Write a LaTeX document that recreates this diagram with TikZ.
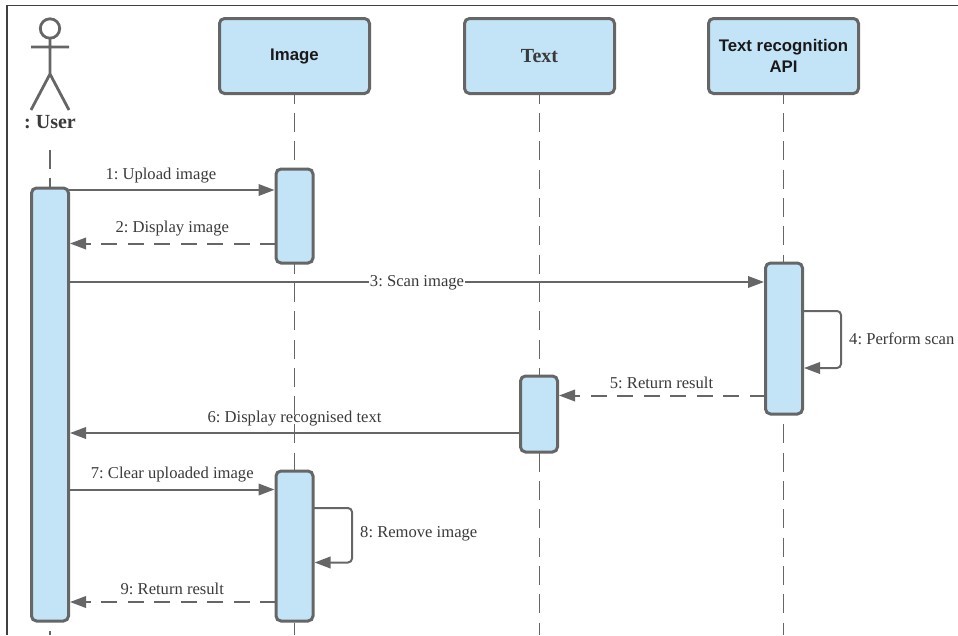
\documentclass[tikz,border=0pt]{standalone}
\usepackage{fontspec}
\setmainfont{Liberation Serif}
\newfontfamily\hvfont{Liberation Sans}
\usetikzlibrary{arrows.meta}
\definecolor{ln}{HTML}{666666}
\definecolor{bl}{HTML}{C3E3F7}
\definecolor{tx}{HTML}{3A3A3A}
\tikzset{
  lifebox/.style={draw=ln,fill=bl,line width=3pt,rounded corners=5pt,minimum width=150pt,minimum height=75pt,inner sep=0pt,outer sep=0pt,align=center},
  act/.style={draw=ln,fill=bl,line width=3pt,rounded corners=5pt,minimum width=37pt,inner sep=0pt,outer sep=0pt},
  lifeline/.style={draw=ln,line width=1.5pt,dash pattern=on 19pt off 9.3pt},
  msg/.style={draw=ln,line width=2pt,-{Triangle[length=16pt,width=11.5pt]},shorten >=1.5pt},
  ret/.style={msg,dash pattern=on 16pt off 10.5pt},
  lbl/.style={font=\fontsize{16.6}{18}\selectfont\frenchspacing,text=tx,inner sep=1pt},
  sanshead/.style={font=\hvfont\bfseries\fontsize{16.8}{21}\selectfont,text=black!90},
  serifhead/.style={font=\bfseries\fontsize{20}{22}\selectfont,text=tx},
}
\begin{document}
\begin{tikzpicture}[x=1pt,y=-1pt]
\useasboundingbox (0,0) rectangle (958,635);
\draw[black!75,line width=1.1pt] (958,5.5) -- (7,5.5) -- (7,635);
% lifeline boxes
\node[lifebox,sanshead] (himage) at (294.5,56) {Image};
\node[lifebox,serifhead] (htext) at (539.5,56) {Text};
\node[lifebox,sanshead] (hapi) at (783.5,56) {Text recognition\\API};
% lifeline ends
\coordinate (ustart) at (50,150);
\coordinate (uend) at (50,635);
\coordinate (iend) at (294.5,635);
\coordinate (tend) at (539.5,635);
\coordinate (aend) at (783.5,635);
\draw[lifeline,dash phase=8.7pt] (himage.south) -- (iend);
\draw[lifeline,dash phase=8.7pt] (htext.south) -- (tend);
\draw[lifeline,dash phase=8.7pt] (hapi.south) -- (aend);
\draw[lifeline] (ustart) -- (uend);
% actor
\draw[ln,line width=2.8pt] (50,28.5) circle (9.7);
\draw[ln,line width=2.8pt] (31,47) -- (69,47) (50,38.5) -- (50,74) (31,110) -- (50,74) -- (69,110);
\node[serifhead,inner sep=0pt,font=\bfseries\fontsize{20}{22}\selectfont\frenchspacing] (user) at (50,122) {: User};
% activations
\node[act,minimum height=433pt] (ua) at (50,404.5) {};
\node[act,minimum height=94pt] (ia) at (294.5,216) {};
\node[act,minimum height=150pt] (ib) at (294.5,546) {};
\node[act,minimum height=151pt] (aa) at (784,338.5) {};
\node[act,minimum height=76pt] (ta) at (539,414) {};
% messages
\draw[msg] (ua.east |- 0,190) -- node[lbl,pos=.445,above=5pt] (m1) {1: Upload image} (ia.west |- 0,190);
\draw[ret] (ia.west |- 0,243.5) -- node[lbl,midway,above=5pt] (m2) {2: Display image} (ua.east |- 0,243.5);
\draw[msg] (ua.east |- 0,282) -- node[lbl,pos=.5,fill=white,yshift=-.5pt] (m3) {3: Scan image} (aa.west |- 0,282);
\draw[msg,rounded corners=4pt] (aa.east |- 0,311) -- (841,311) -- (841,368) -- (aa.east |- 0,368);
\node[lbl,anchor=west] (m4) at (848,338.5) {4: Perform scan};
\draw[ret] (aa.west |- 0,395.5) -- node[lbl,midway,above=5pt] (m5) {5: Return result} (ta.east |- 0,395.5);
\draw[msg] (ta.west |- 0,433) -- node[lbl,midway,above=5pt] (m6) {6: Display recognised text} (ua.east |- 0,433);
\draw[msg] (ua.east |- 0,489.5) -- node[lbl,midway,above=5pt] (m7) {7: Clear uploaded image} (ib.west |- 0,489.5);
\draw[msg,rounded corners=4pt] (ib.east |- 0,508) -- (352,508) -- (352,562.5) -- (ib.east |- 0,562.5);
\node[lbl,anchor=west] (m8) at (359,534) {8: Remove image};
\draw[ret] (ib.west |- 0,602) -- node[lbl,midway,above=5pt] (m9) {9: Return result} (ua.east |- 0,602);
\end{tikzpicture}
\end{document}
